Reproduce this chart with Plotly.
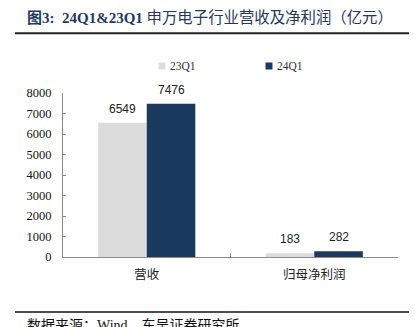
import plotly.graph_objects as go

categories = ["营收", "归母净利润"]
series_names = ["23Q1", "24Q1"]
values_23q1 = [6549, 183]
values_24q1 = [7476, 282]
colors = ["#DCDCDC", "#1B3A5F"]
y_ticks = [0, 1000, 2000, 3000, 4000, 5000, 6000, 7000, 8000]

W, H = 417, 327
L, R, T, B = 63, 19, 93, 70
PW, PH = W - L - R, H - T - B

def px(x):
    return (x - L) / PW

def py(y):
    return (H - B - y) / PH

fig = go.Figure()
for name, vals, col in zip(series_names, [values_23q1, values_24q1], colors):
    fig.add_trace(go.Bar(x=categories, y=vals, name=name, marker_color=col,
                         marker_line_width=0, showlegend=False))

# data labels
offsets = [-24.5, 24.5]
for vals, off in zip([values_23q1, values_24q1], offsets):
    for c, v in zip(categories, vals):
        fig.add_annotation(x=c, y=v, text=str(v), showarrow=False, xshift=off,
                           yshift=14, yanchor="middle", xref="x", yref="y",
                           font=dict(family="Liberation Sans, Arial", size=12, color="#222"))

fig.update_layout(
    width=W, height=H, margin=dict(l=L, r=R, t=T, b=B),
    paper_bgcolor="white", plot_bgcolor="white",
    barmode="group", bargap=0.42, bargroupgap=0,
    xaxis=dict(showline=True, linecolor="#8c8c8c", linewidth=1, ticks="inside",
               tickson="boundaries", ticklen=4, tickcolor="#8c8c8c", showgrid=False,
               tickfont=dict(family="Noto Sans CJK SC", size=12.5, color="#222"),
               ticklabelstandoff=6),
    yaxis=dict(range=[0, 8000], tickvals=y_ticks, showline=True, linecolor="#8c8c8c",
               linewidth=1, ticks="inside", ticklen=3, tickcolor="#8c8c8c", showgrid=False,
               zeroline=False,
               tickfont=dict(family="Liberation Serif, Times New Roman", size=12.5, color="#111"),
               ticklabelstandoff=8),
    font=dict(family="Liberation Serif"),
)

# legend (manual)
leg = [(158.5, 167.5), (265.5, 274.5)]
for (sx, tx), name, col in zip(leg, series_names, colors):
    fig.add_shape(type="rect", xref="paper", yref="paper", x0=px(sx), x1=px(sx + 7),
                  y0=py(69.5), y1=py(62.5), fillcolor=col, line_width=0)
    fig.add_annotation(xref="paper", yref="paper", x=px(tx), y=py(66), text=name,
                       showarrow=False, xanchor="left", yanchor="middle",
                       font=dict(family="Liberation Serif", size=11.5, color="#333"))

# title
fig.add_annotation(xref="paper", yref="paper", x=px(25), y=py(17), xanchor="left",
                   yanchor="middle", showarrow=False,
                   text=("<b>图3:  24Q1&23Q1 </b>"
                         "<span style='font-size:15.4px'>申万电子行业营收及净利润（亿元）</span>"),
                   font=dict(family="Liberation Serif, Noto Sans CJK SC", size=15, color="#1F3864"))
fig.add_shape(type="line", xref="paper", yref="paper", x0=px(15), x1=px(409),
              y0=py(33.3), y1=py(33.3), line=dict(color="#222", width=2))

# source
fig.add_shape(type="line", xref="paper", yref="paper", x0=px(15), x1=px(409),
              y0=py(312), y1=py(312), line=dict(color="#111", width=1.5))
fig.add_annotation(xref="paper", yref="paper", x=px(25), y=py(316), xanchor="left",
                   yanchor="top", showarrow=False, text="数据来源：Wind，东吴证券研究所",
                   font=dict(family="Liberation Serif, Noto Sans CJK SC", size=14, color="#111"))

fig.write_html("out.html")
